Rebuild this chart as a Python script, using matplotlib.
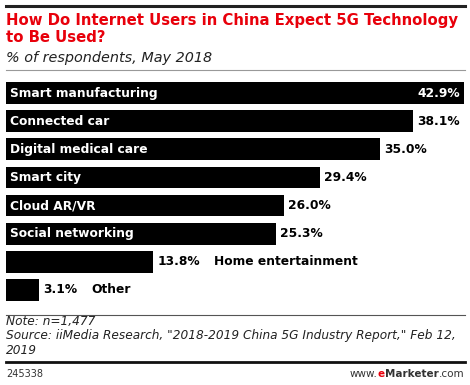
import matplotlib
matplotlib.use('Agg')
import matplotlib.pyplot as plt
from matplotlib.lines import Line2D

# data
cats = ['Smart manufacturing', 'Connected car', 'Digital medical care',
        'Smart city', 'Cloud AR/VR', 'Social networking',
        'Home entertainment', 'Other']
vals = [42.9, 38.1, 35.0, 29.4, 26.0, 25.3, 13.8, 3.1]
inside = [True, True, True, True, True, True, False, False]

W, H = 470, 385
fig = plt.figure(figsize=(W / 100, H / 100), dpi=100)
plt.rcParams['font.family'] = 'DejaVu Sans'

def fx(px):
    return px / W

def fy(py):
    return 1 - py / H

# rules
fig.add_artist(Line2D([fx(6), fx(465)], [fy(6), fy(6)], color='#222222', lw=2.2))
fig.add_artist(Line2D([fx(6), fx(465)], [fy(70), fy(70)], color='#999999', lw=0.8))
fig.add_artist(Line2D([fx(6), fx(465)], [fy(315), fy(315)], color='#555555', lw=0.8))
fig.add_artist(Line2D([fx(6), fx(465)], [fy(362), fy(362)], color='#111111', lw=2.0))

fig.text(fx(6), fy(20), 'How Do Internet Users in China Expect 5G Technology',
         color='#e8000b', fontsize=10.75, fontweight='bold', va='center')
fig.text(fx(6), fy(38), 'to Be Used?', color='#e8000b', fontsize=10.75,
         fontweight='bold', va='center')
fig.text(fx(6), fy(58), '% of respondents, May 2018', fontsize=10.4,
         style='italic', va='center', color='#222222')

# bars
ax = fig.add_axes([fx(6), fy(304), fx(464 - 6), (304 - 79) / H])
y = list(range(len(cats)))
ax.barh(y, vals, height=0.77, color='black')
ax.set_xlim(0, 42.9)
ax.set_ylim(len(cats) - 0.5, -0.5)
ax.axis('off')

fs = 8.85
for i, (c, v) in enumerate(zip(cats, vals)):
    if inside[i]:
        ax.text(0.4, i, c, color='white', fontsize=fs, fontweight='bold',
                va='center', ha='left')
        if v == max(vals):
            ax.text(v - 0.4, i, f'{v:.1f}%', color='white', fontsize=fs,
                    fontweight='bold', va='center', ha='right')
        else:
            ax.text(v + 0.4, i, f'{v:.1f}%', color='black', fontsize=fs,
                    fontweight='bold', va='center', ha='left', clip_on=False)
    else:
        t = ax.text(v + 0.4, i, f'{v:.1f}%', color='black', fontsize=fs,
                    fontweight='bold', va='center', ha='left')
        ax.annotate(c, xy=(1, 0.5), xycoords=t, xytext=(10, 0),
                    textcoords='offset points', color='black', fontsize=fs,
                    fontweight='bold', va='center', ha='left')

fig.text(fx(6), fy(322), 'Note: n=1,477', fontsize=8.7, style='italic',
         va='center', color='#222222')
fig.text(fx(6), fy(336),
         'Source: iiMedia Research, "2018-2019 China 5G Industry Report," Feb 12,',
         fontsize=8.7, style='italic', va='center', color='#222222')
fig.text(fx(6), fy(350), '2019', fontsize=8.7, style='italic', va='center',
         color='#222222')
fig.text(fx(6), fy(374), '245338', fontsize=7, va='center', color='#333333')

# eMarketer footer, built right to left
t1 = fig.text(fx(464), fy(374), '.com', fontsize=7.5, va='center',
              ha='right', color='#333333')
t2 = fig.add_artist(plt.Annotation('Marketer', xy=(0, 0.5), xycoords=t1,
                                   fontsize=7.5, fontweight='bold',
                                   va='center', ha='right', color='#333333'))
t3 = fig.add_artist(plt.Annotation('e', xy=(0, 0.5), xycoords=t2,
                                   fontsize=7.5, fontweight='bold',
                                   va='center', ha='right', color='#e8000b'))
fig.add_artist(plt.Annotation('www.', xy=(0, 0.5), xycoords=t3,
                              fontsize=7.5, va='center', ha='right',
                              color='#333333'))

fig.savefig('out.png', dpi=100)
